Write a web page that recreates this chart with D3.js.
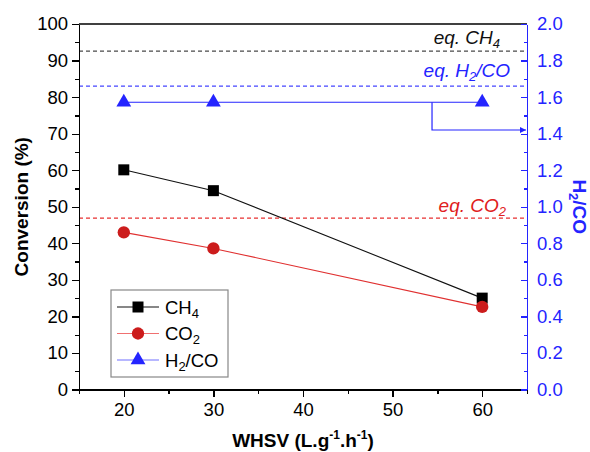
<!DOCTYPE html>
<meta charset="utf-8">
<style>
body { margin: 0; background: #fff; }
svg { font-family: Arial, 'Liberation Sans', sans-serif; }
.axis text { font-size: 18.5px; }
.axis path, .axis line { shape-rendering: crispEdges; }
</style>
<svg width="590" height="452"></svg>
<script src="https://d3js.org/d3.v7.min.js"></script>
<script>

// data
var whsv = [20, 30, 60];
var ch4 = [60.1, 54.4, 25.0];
var co2 = [43.0, 38.6, 22.6];
var h2co = [1.572, 1.572, 1.572];

var eqCH4 = 92.6,
    eqCO2 = 46.9,
    eqH2CO = 1.66;

// arrow pointing the H2/CO series to the right axis
var arrowX = 54.4,
    arrowY = 1.42;

var xTicks = [20, 30, 40, 50, 60];
var xMinor = [15, 25, 35, 45, 55, 65];
var yTicks = [0, 10, 20, 30, 40, 50, 60, 70, 80, 90, 100];
var yMinor = [5, 15, 25, 35, 45, 55, 65, 75, 85, 95];
var y2Ticks = [0, 0.2, 0.4, 0.6, 0.8, 1.0, 1.2, 1.4, 1.6, 1.8, 2.0];
var y2Minor = [0.1, 0.3, 0.5, 0.7, 0.9, 1.1, 1.3, 1.5, 1.7, 1.9];

var blue = "#2424ff",
    red = "#cc1c1c",
    black = "#000";

var svg = d3.select("svg");

var x = d3.scaleLinear().domain([15, 65]).range([79, 527]);
var y = d3.scaleLinear().domain([0, 100]).range([389.5, 24]);
var y2 = d3.scaleLinear().domain([0, 2]).range([389.5, 24]);

// top frame line
svg.append("line")
    .attr("x1", x(15)).attr("x2", x(65))
    .attr("y1", y(100)).attr("y2", y(100))
    .attr("stroke", black).attr("stroke-width", 1.3);

// equilibrium lines
function eqLine(yy, color) {
    svg.append("line")
        .attr("x1", x(15)).attr("x2", x(65))
        .attr("y1", yy).attr("y2", yy)
        .attr("stroke", color)
        .attr("stroke-width", 1.2)
        .attr("stroke-dasharray", "4,3");
}
eqLine(y(eqCH4), "#4a4a4a");
eqLine(y2(eqH2CO), "#4646ff");
eqLine(y(eqCO2), "#e83030");

function eqLabel(xx, yy, color, main, sub, tail) {
    var t = svg.append("text")
        .attr("x", xx).attr("y", yy)
        .attr("text-anchor", "end")
        .attr("font-size", 19)
        .attr("font-style", "italic")
        .attr("fill", color);
    t.append("tspan").text(main);
    t.append("tspan").attr("dy", 4).attr("font-size", 13).text(sub);
    if (tail) t.append("tspan").attr("dy", -4).text(tail);
}
eqLabel(500, 44, "#111", "eq. CH", "4");
eqLabel(510, 77, blue, "eq. H", "2", "/CO");
eqLabel(506, 212, "#e02020", "eq. CO", "2");

// axes
svg.append("g")
    .attr("class", "axis")
    .attr("transform", "translate(0," + y(0) + ")")
    .call(d3.axisBottom(x).tickValues(xTicks).tickSize(7).tickSizeOuter(0).tickPadding(6));
svg.append("g")
    .attr("class", "axis")
    .attr("transform", "translate(0," + y(0) + ")")
    .call(d3.axisBottom(x).tickValues(xMinor).tickSize(4).tickSizeOuter(0).tickFormat(""));

svg.append("g")
    .attr("class", "axis")
    .attr("transform", "translate(" + x(15) + ",0)")
    .call(d3.axisLeft(y).tickValues(yTicks).tickSize(7).tickSizeOuter(0).tickPadding(4));
svg.append("g")
    .attr("class", "axis")
    .attr("transform", "translate(" + x(15) + ",0)")
    .call(d3.axisLeft(y).tickValues(yMinor).tickSize(4).tickSizeOuter(0).tickFormat(""));

var r1 = svg.append("g")
    .attr("class", "axis")
    .attr("transform", "translate(" + x(65) + ",0)")
    .call(d3.axisRight(y2).tickValues(y2Ticks).tickSize(-6).tickSizeOuter(0).tickPadding(10)
        .tickFormat(d3.format(".1f")));
var r2 = svg.append("g")
    .attr("class", "axis")
    .attr("transform", "translate(" + x(65) + ",0)")
    .call(d3.axisRight(y2).tickValues(y2Minor).tickSize(-3).tickSizeOuter(0).tickFormat(""));
svg.selectAll(".axis .domain").attr("stroke-width", 1.5);
svg.selectAll(".axis line").attr("stroke-width", 1.3);
[r1, r2].forEach(function(g) {
    g.select(".domain").attr("stroke", blue);
    g.selectAll("line").attr("stroke", blue);
    g.selectAll("text").attr("fill", blue);
});

// axis titles
svg.append("text")
    .attr("transform", "translate(28," + (y(50)) + ") rotate(-90)")
    .attr("text-anchor", "middle")
    .attr("font-size", 19).attr("font-weight", "bold")
    .text("Conversion (%)");

var xt = svg.append("text")
    .attr("x", (x(15) + x(65)) / 2).attr("y", 447)
    .attr("text-anchor", "middle")
    .attr("font-size", 19).attr("font-weight", "bold");
xt.append("tspan").text("WHSV (L.g");
xt.append("tspan").attr("dy", -8).attr("font-size", 12).text("-1");
xt.append("tspan").attr("dy", 8).text(".h");
xt.append("tspan").attr("dy", -8).attr("font-size", 12).text("-1");
xt.append("tspan").attr("dy", 8).text(")");

var yt = svg.append("text")
    .attr("transform", "translate(573," + (y(50)) + ") rotate(90)")
    .attr("text-anchor", "middle")
    .attr("font-size", 19).attr("font-weight", "bold")
    .attr("fill", blue);
yt.append("tspan").text("H");
yt.append("tspan").attr("dy", 4).attr("font-size", 13).text("2");
yt.append("tspan").attr("dy", -4).text("/CO");

// arrow annotation
svg.append("defs").append("marker")
    .attr("id", "arr")
    .attr("viewBox", "0 0 10 10")
    .attr("refX", 10).attr("refY", 5)
    .attr("markerWidth", 10).attr("markerHeight", 6)
    .attr("markerUnits", "userSpaceOnUse")
    .attr("orient", "auto")
    .append("path")
    .attr("d", "M0,0L10,5L0,10Z")
    .attr("fill", blue);

svg.append("path")
    .attr("d", "M" + x(arrowX) + "," + y2(h2co[2]) + "V" + y2(arrowY) + "H" + (x(65) - 1))
    .attr("fill", "none")
    .attr("stroke", blue)
    .attr("stroke-width", 1.2)
    .attr("marker-end", "url(#arr)");

// series
var series = [
    {vals: ch4, scale: y, color: black, line: "#111", sym: d3.symbolSquare, size: 121},
    {vals: co2, scale: y, color: red, line: "#e03030", sym: d3.symbolCircle, size: 120},
    {vals: h2co, scale: y2, color: blue, line: blue, sym: d3.symbolTriangle, size: 95}
];

series.forEach(function(s) {
    var line = d3.line()
        .x(function(d, i) { return x(whsv[i]); })
        .y(function(d) { return s.scale(d); });
    svg.append("path")
        .datum(s.vals)
        .attr("d", line)
        .attr("fill", "none")
        .attr("stroke", s.line)
        .attr("stroke-width", 1.1);
    svg.selectAll(null)
        .data(s.vals)
        .enter().append("path")
        .attr("transform", function(d, i) { return "translate(" + x(whsv[i]) + "," + s.scale(d) + ")"; })
        .attr("d", d3.symbol().type(s.sym).size(s.size))
        .attr("fill", s.color);
});

// legend
var lg = svg.append("g").attr("transform", "translate(111,290)");
lg.append("rect")
    .attr("width", 117).attr("height", 87)
    .attr("fill", "#fff")
    .attr("stroke", "#888")
    .attr("stroke-width", 1.2);

var legendText = [["CH", "4", ""], ["CO", "2", ""], ["H", "2", "/CO"]];
var legendLines = ["#111", "#f07070", "#7070ff"];
series.forEach(function(s, i) {
    var ly = 17 + i * 26.5;
    lg.append("line")
        .attr("x1", 6).attr("x2", 48)
        .attr("y1", ly).attr("y2", ly)
        .attr("stroke", legendLines[i])
        .attr("stroke-width", 1.1);
    lg.append("path")
        .attr("transform", "translate(27," + ly + ")")
        .attr("d", d3.symbol().type(s.sym).size(s.size))
        .attr("fill", s.color);
    var t = lg.append("text")
        .attr("x", 54).attr("y", ly + 6.5)
        .attr("font-size", 18.5);
    t.append("tspan").text(legendText[i][0]);
    t.append("tspan").attr("dy", 4).attr("font-size", 13).text(legendText[i][1]);
    if (legendText[i][2]) t.append("tspan").attr("dy", -4).text(legendText[i][2]);
});

</script>
